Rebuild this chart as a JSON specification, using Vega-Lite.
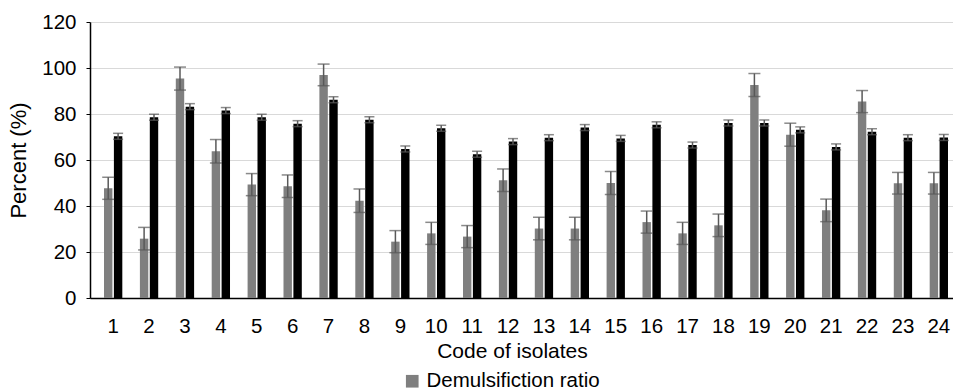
{
  "$schema": "https://vega.github.io/schema/vega-lite/v6.json",
  "width": 872,
  "height": 276,
  "autosize": {"type": "none"},
  "padding": {"left": 90, "top": 22, "right": 0, "bottom": 100},
  "config": {
    "font": "Liberation Sans",
    "view": {"stroke": null},
    "axis": {"labelColor": "#000", "titleColor": "#000", "titleFontWeight": "normal", "labelFontSize": 20.5, "titleFontSize": 21}
  },
  "data": {
    "values": [
      {"isolate": "1", "series": "Demulsifiction ratio", "value": 47.7, "lo": 42.9, "hi": 52.5},
      {"isolate": "2", "series": "Demulsifiction ratio", "value": 25.8, "lo": 20.9, "hi": 30.7},
      {"isolate": "3", "series": "Demulsifiction ratio", "value": 95.4, "lo": 90.4, "hi": 100.4},
      {"isolate": "4", "series": "Demulsifiction ratio", "value": 63.8, "lo": 58.7, "hi": 68.9},
      {"isolate": "5", "series": "Demulsifiction ratio", "value": 49.3, "lo": 44.5, "hi": 54.1},
      {"isolate": "6", "series": "Demulsifiction ratio", "value": 48.6, "lo": 43.7, "hi": 53.5},
      {"isolate": "7", "series": "Demulsifiction ratio", "value": 97.0, "lo": 92.3, "hi": 101.7},
      {"isolate": "8", "series": "Demulsifiction ratio", "value": 42.3, "lo": 37.2, "hi": 47.4},
      {"isolate": "9", "series": "Demulsifiction ratio", "value": 24.5, "lo": 19.7, "hi": 29.3},
      {"isolate": "10", "series": "Demulsifiction ratio", "value": 28.1, "lo": 23.3, "hi": 32.9},
      {"isolate": "11", "series": "Demulsifiction ratio", "value": 26.7, "lo": 21.9, "hi": 31.5},
      {"isolate": "12", "series": "Demulsifiction ratio", "value": 51.2, "lo": 46.3, "hi": 56.1},
      {"isolate": "13", "series": "Demulsifiction ratio", "value": 30.2, "lo": 25.3, "hi": 35.1},
      {"isolate": "14", "series": "Demulsifiction ratio", "value": 30.2, "lo": 25.3, "hi": 35.1},
      {"isolate": "15", "series": "Demulsifiction ratio", "value": 50.0, "lo": 45.0, "hi": 55.0},
      {"isolate": "16", "series": "Demulsifiction ratio", "value": 33.0, "lo": 28.2, "hi": 37.8},
      {"isolate": "17", "series": "Demulsifiction ratio", "value": 28.1, "lo": 23.3, "hi": 32.9},
      {"isolate": "18", "series": "Demulsifiction ratio", "value": 31.6, "lo": 26.7, "hi": 36.5},
      {"isolate": "19", "series": "Demulsifiction ratio", "value": 92.6, "lo": 87.6, "hi": 97.6},
      {"isolate": "20", "series": "Demulsifiction ratio", "value": 71.0, "lo": 66.0, "hi": 76.0},
      {"isolate": "21", "series": "Demulsifiction ratio", "value": 38.1, "lo": 33.2, "hi": 43.0},
      {"isolate": "22", "series": "Demulsifiction ratio", "value": 85.4, "lo": 80.6, "hi": 90.2},
      {"isolate": "23", "series": "Demulsifiction ratio", "value": 49.9, "lo": 45.2, "hi": 54.6},
      {"isolate": "24", "series": "Demulsifiction ratio", "value": 49.9, "lo": 45.2, "hi": 54.6},
      {"isolate": "1", "series": "Emulsification index (E24)", "value": 70.3, "lo": 69.0, "hi": 71.6},
      {"isolate": "2", "series": "Emulsification index (E24)", "value": 78.6, "lo": 77.3, "hi": 79.9},
      {"isolate": "3", "series": "Emulsification index (E24)", "value": 83.2, "lo": 81.9, "hi": 84.5},
      {"isolate": "4", "series": "Emulsification index (E24)", "value": 81.5, "lo": 80.2, "hi": 82.8},
      {"isolate": "5", "series": "Emulsification index (E24)", "value": 78.6, "lo": 77.3, "hi": 79.9},
      {"isolate": "6", "series": "Emulsification index (E24)", "value": 75.8, "lo": 74.5, "hi": 77.1},
      {"isolate": "7", "series": "Emulsification index (E24)", "value": 86.2, "lo": 84.9, "hi": 87.5},
      {"isolate": "8", "series": "Emulsification index (E24)", "value": 77.5, "lo": 76.2, "hi": 78.8},
      {"isolate": "9", "series": "Emulsification index (E24)", "value": 64.8, "lo": 63.5, "hi": 66.1},
      {"isolate": "10", "series": "Emulsification index (E24)", "value": 73.8, "lo": 72.5, "hi": 75.1},
      {"isolate": "11", "series": "Emulsification index (E24)", "value": 62.5, "lo": 61.2, "hi": 63.8},
      {"isolate": "12", "series": "Emulsification index (E24)", "value": 68.0, "lo": 66.7, "hi": 69.3},
      {"isolate": "13", "series": "Emulsification index (E24)", "value": 69.7, "lo": 68.4, "hi": 71.0},
      {"isolate": "14", "series": "Emulsification index (E24)", "value": 74.1, "lo": 72.8, "hi": 75.4},
      {"isolate": "15", "series": "Emulsification index (E24)", "value": 69.4, "lo": 68.1, "hi": 70.7},
      {"isolate": "16", "series": "Emulsification index (E24)", "value": 75.3, "lo": 74.0, "hi": 76.6},
      {"isolate": "17", "series": "Emulsification index (E24)", "value": 66.5, "lo": 65.2, "hi": 67.8},
      {"isolate": "18", "series": "Emulsification index (E24)", "value": 76.1, "lo": 74.8, "hi": 77.4},
      {"isolate": "19", "series": "Emulsification index (E24)", "value": 76.1, "lo": 74.8, "hi": 77.4},
      {"isolate": "20", "series": "Emulsification index (E24)", "value": 73.1, "lo": 71.8, "hi": 74.4},
      {"isolate": "21", "series": "Emulsification index (E24)", "value": 65.7, "lo": 64.4, "hi": 67.0},
      {"isolate": "22", "series": "Emulsification index (E24)", "value": 72.3, "lo": 71.0, "hi": 73.6},
      {"isolate": "23", "series": "Emulsification index (E24)", "value": 69.7, "lo": 68.4, "hi": 71.0},
      {"isolate": "24", "series": "Emulsification index (E24)", "value": 69.8, "lo": 68.5, "hi": 71.1}
    ]
  },
  "encoding": {
    "x": {
      "field": "isolate", "type": "ordinal", "sort": null,
      "scale": {"paddingInner": 0.49, "paddingOuter": 0.39},
      "axis": {"title": "Code of isolates", "labelAngle": 0, "ticks": false, "domainColor": "#000", "domainWidth": 1.5, "labelPadding": 18, "titlePadding": 4, "titleX": 422}
    },
    "xOffset": {
      "field": "series", "type": "nominal",
      "sort": ["Demulsifiction ratio", "Emulsification index (E24)"],
      "scale": {"paddingInner": 0.15}
    }
  },
  "layer": [
    {
      "mark": {"type": "bar"},
      "encoding": {
        "y": {
          "field": "value", "type": "quantitative",
          "scale": {"domain": [0, 120], "nice": false},
          "axis": {"title": "Percent (%)", "titleFontSize": 22, "values": [0, 20, 40, 60, 80, 100, 120], "grid": true, "gridColor": "#d9d9d9", "gridWidth": 1.2, "domainColor": "#000", "domainWidth": 1.5, "tickColor": "#000", "tickSize": 4, "labelPadding": 10, "titlePadding": 11}
        },
        "color": {
          "field": "series", "type": "nominal",
          "scale": {"domain": ["Demulsifiction ratio", "Emulsification index (E24)"], "range": ["#7f7f7f", "#000000"]},
          "legend": {"title": null, "values": ["Demulsifiction ratio"], "orient": "none", "legendX": 312, "legendY": 349, "labelFontSize": 20.5, "labelColor": "#000", "labelLimit": 0, "symbolType": "square", "symbolSize": 160, "symbolStrokeWidth": 0, "symbolOpacity": 1}
        }
      }
    },
    {
      "mark": {"type": "rule", "color": "#595959", "strokeWidth": 1.5},
      "encoding": {
        "y": {"field": "lo", "type": "quantitative"},
        "y2": {"field": "hi"}
      }
    },
    {
      "transform": [{"filter": "datum.series === 'Demulsifiction ratio'"}],
      "layer": [
        {"mark": {"type": "tick", "orient": "horizontal", "color": "#595959", "thickness": 1.5, "size": 12}, "encoding": {"y": {"field": "hi", "type": "quantitative"}}},
        {"mark": {"type": "tick", "orient": "horizontal", "color": "#595959", "thickness": 1.5, "size": 12}, "encoding": {"y": {"field": "lo", "type": "quantitative"}}}
      ]
    },
    {
      "transform": [{"filter": "datum.series !== 'Demulsifiction ratio'"}],
      "layer": [
        {"mark": {"type": "tick", "orient": "horizontal", "color": "#595959", "thickness": 1.5, "size": 10}, "encoding": {"y": {"field": "hi", "type": "quantitative"}}},
        {"mark": {"type": "tick", "orient": "horizontal", "color": "#595959", "thickness": 1.5, "size": 10}, "encoding": {"y": {"field": "lo", "type": "quantitative"}}}
      ]
    }
  ]
}
